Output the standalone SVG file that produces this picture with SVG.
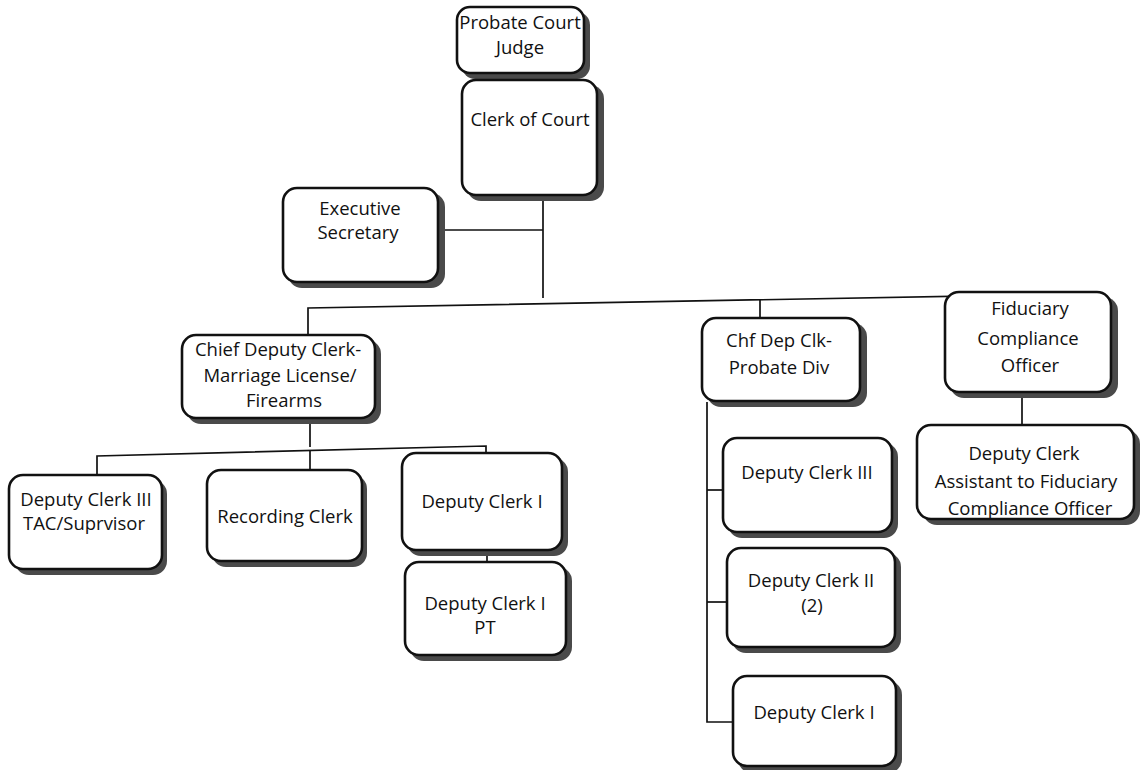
<svg xmlns="http://www.w3.org/2000/svg" width="1142" height="770" viewBox="0 0 1142 770">
<defs>
<style>
.box{fill:#fff;stroke:#111;stroke-width:2.6}
.sh{fill:#4a4a4a}
.t{font-family:"Open Sans","Liberation Sans",sans-serif;font-size:18.5px;fill:#111;text-anchor:middle}
.c{fill:none;stroke:#111;stroke-width:1.7}
</style>
</defs>
<rect width="1142" height="770" fill="#fff"/>
<g id="connectors">
<path class="c" d="M543 196 L543 298"/>
<path class="c" d="M440 230 L543 230"/>
<path class="c" d="M308 336 L308 308 L1022 295 L1022 292"/>
<path class="c" d="M760 300 L760 318"/>
<path class="c" d="M310 418 L310 447"/>
<path class="c" d="M97 475 L97 456 L486 446 L486 453"/>
<path class="c" d="M310 450 L310 470"/>
<path class="c" d="M487 552 L487 563"/>
<path class="c" d="M1022 393 L1022 425"/>
<path class="c" d="M707 402 L707 722 L733 722"/>
<path class="c" d="M707 490 L723 490"/>
<path class="c" d="M707 602 L727 602"/>
</g>
<g id="n-judge">
<rect class="sh" x="462" y="12" width="128" height="67" rx="13"/>
<rect class="box" x="457" y="7" width="127" height="66" rx="13"/>
<text class="t" x="520" y="29">Probate Court</text>
<text class="t" x="520" y="54">Judge</text>
</g>
<g id="n-clerk">
<rect class="sh" x="467" y="85" width="137" height="116" rx="14"/>
<rect class="box" x="462" y="80" width="135" height="115" rx="14"/>
<text class="t" x="530" y="126">Clerk of Court</text>
</g>
<g id="n-exec">
<rect class="sh" x="288" y="193" width="157" height="95" rx="14"/>
<rect class="box" x="283" y="188" width="155" height="94" rx="14"/>
<text class="t" x="360" y="215">Executive</text>
<text class="t" x="358" y="239">Secretary</text>
</g>
<g id="n-chief">
<rect class="sh" x="187" y="340" width="194" height="84" rx="14"/>
<rect class="box" x="182" y="335" width="193" height="83" rx="14"/>
<text class="t" x="278" y="356">Chief Deputy Clerk-</text>
<text class="t" x="280" y="382">Marriage License/</text>
<text class="t" x="284" y="407">Firearms</text>
</g>
<g id="n-chfprob">
<rect class="sh" x="707" y="323" width="160" height="84" rx="14"/>
<rect class="box" x="702" y="318" width="158" height="83" rx="14"/>
<text class="t" x="779" y="347">Chf Dep Clk-</text>
<text class="t" x="779" y="374">Probate Div</text>
</g>
<g id="n-fid">
<rect class="sh" x="950" y="297" width="168" height="101" rx="14"/>
<rect class="box" x="945" y="292" width="166" height="100" rx="14"/>
<text class="t" x="1030" y="315">Fiduciary</text>
<text class="t" x="1028" y="345">Compliance</text>
<text class="t" x="1030" y="372">Officer</text>
</g>
<g id="n-dc3tac">
<rect class="sh" x="15" y="480" width="152" height="95" rx="14"/>
<rect class="box" x="9" y="475" width="153" height="94" rx="14"/>
<text class="t" x="86" y="506">Deputy Clerk III</text>
<text class="t" x="84" y="530">TAC/Suprvisor</text>
</g>
<g id="n-rec">
<rect class="sh" x="212" y="475" width="155" height="92" rx="14"/>
<rect class="box" x="207" y="470" width="155" height="91" rx="14"/>
<text class="t" x="285" y="523">Recording Clerk</text>
</g>
<g id="n-dc1">
<rect class="sh" x="407" y="458" width="161" height="98" rx="14"/>
<rect class="box" x="402" y="453" width="160" height="97" rx="14"/>
<text class="t" x="482" y="508">Deputy Clerk I</text>
</g>
<g id="n-dc1pt">
<rect class="sh" x="410" y="567" width="162" height="94" rx="14"/>
<rect class="box" x="405" y="562" width="161" height="93" rx="14"/>
<text class="t" x="485" y="610">Deputy Clerk I</text>
<text class="t" x="485" y="634">PT</text>
</g>
<g id="n-dcasst">
<rect class="sh" x="923" y="430" width="217" height="95" rx="14"/>
<rect class="box" x="917" y="425" width="217" height="94" rx="14"/>
<text class="t" x="1024" y="460">Deputy Clerk</text>
<text class="t" x="1026" y="488">Assistant to Fiduciary</text>
<text class="t" x="1030" y="515">Compliance Officer</text>
</g>
<g id="n-dc3r">
<rect class="sh" x="728" y="443" width="170" height="95" rx="14"/>
<rect class="box" x="723" y="438" width="169" height="94" rx="14"/>
<text class="t" x="807" y="479">Deputy Clerk III</text>
</g>
<g id="n-dc2r">
<rect class="sh" x="732" y="553" width="169" height="100" rx="14"/>
<rect class="box" x="727" y="548" width="168" height="99" rx="14"/>
<text class="t" x="811" y="587">Deputy Clerk II</text>
<text class="t" x="812" y="612">(2)</text>
</g>
<g id="n-dc1r">
<rect class="sh" x="738" y="681" width="164" height="92" rx="14"/>
<rect class="box" x="733" y="676" width="163" height="90" rx="14"/>
<text class="t" x="814" y="719">Deputy Clerk I</text>
</g>
</svg>
